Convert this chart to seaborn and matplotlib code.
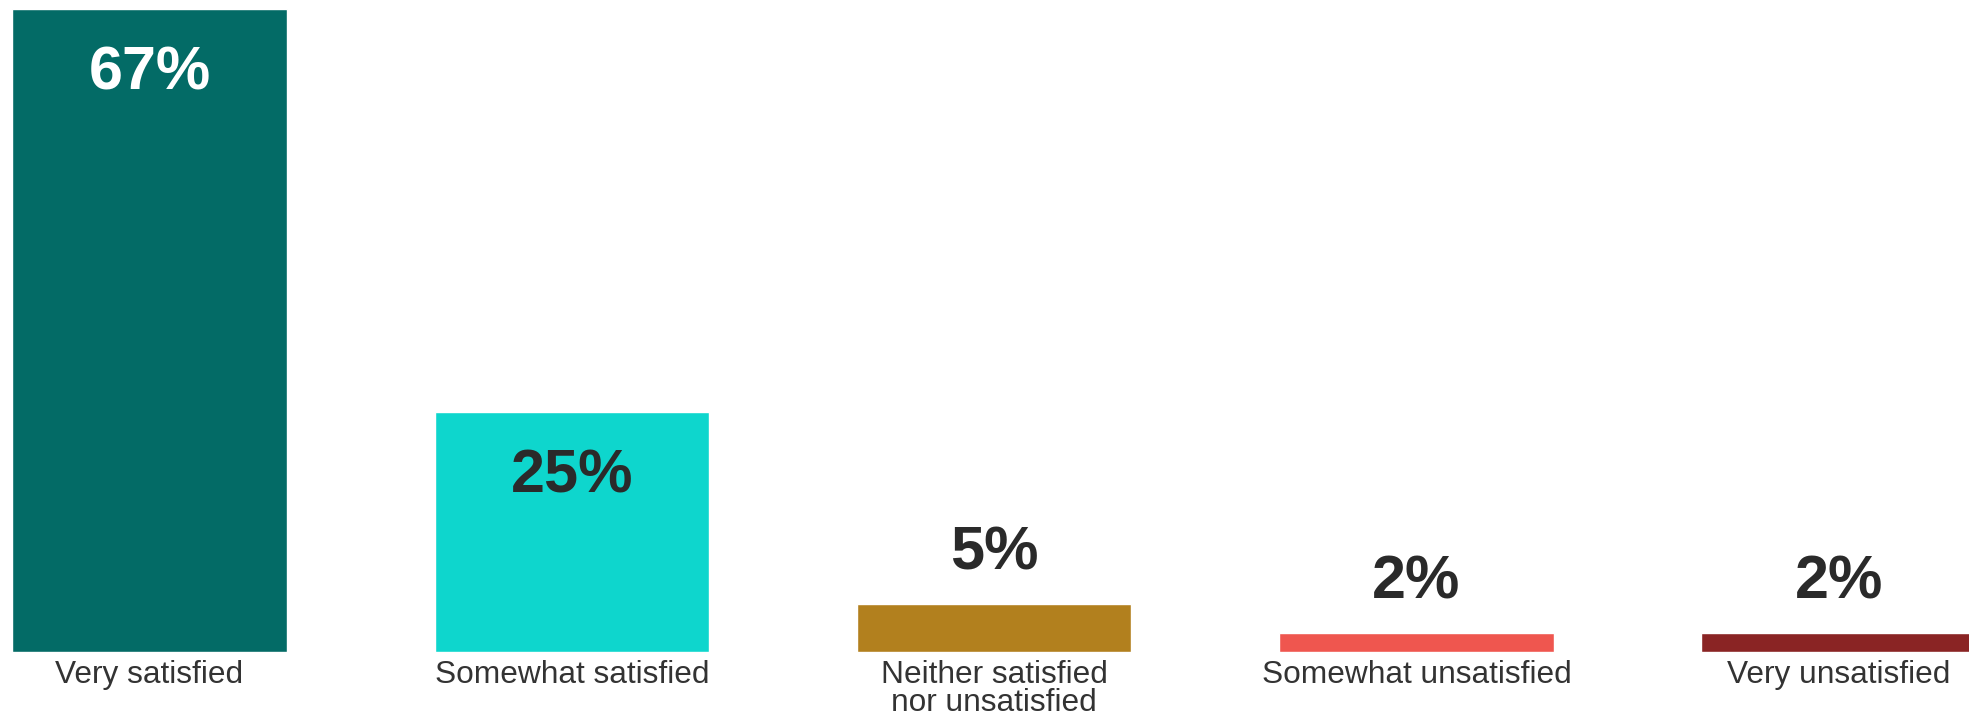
import matplotlib
matplotlib.use("Agg")
import matplotlib.pyplot as plt
import seaborn as sns
import pandas as pd

categories = ["Very satisfied", "Somewhat satisfied", "Neither satisfied\nnor unsatisfied",
              "Somewhat unsatisfied", "Very unsatisfied"]
values = [67, 25, 5, 2, 2]
value_labels = ["67%", "25%", "5%", "2%", "2%"]
colors = ["#036B66", "#0ED6CD", "#B2801E", "#EF564F", "#8A2424"]
label_colors = ["white", "#2a2a2a", "#2a2a2a", "#2a2a2a", "#2a2a2a"]

sns.set_theme(style="white")
plt.rcParams["font.family"] = ["Liberation Sans", "DejaVu Sans"]

df = pd.DataFrame({"category": categories, "value": values})

fig = plt.figure(figsize=(19.69, 7.14), dpi=100)
# axes spans full width; bottom at pixel 652 of 714
ax = fig.add_axes([0, (714 - 652) / 714, 1, 652 / 714])
sns.barplot(data=df, x="category", y="value", hue="category", palette=colors,
            dodge=False, legend=False, width=0.65, saturation=1, ax=ax)

ax.set_xlim(-149.5 / 422.3, (1969 - 149.5) / 422.3)
ax.set_ylim(0, 652 / 9.6)

for i, (v, lab, c) in enumerate(zip(values, value_labels, label_colors)):
    y = v - 6.8 if v > 10 else v + 5.2
    ax.text(i, y, lab, ha="center", va="center", fontsize=44, fontweight="bold", color=c)

for s in ax.spines.values():
    s.set_visible(False)
ax.set_yticks([])
ax.set_xlabel("")
ax.set_ylabel("")
ax.tick_params(axis="x", length=0, pad=6, labelsize=22.8, labelcolor="#333333")
for t in ax.get_xticklabels():
    t.set_linespacing(0.88)

fig.savefig("out.png", dpi=100)
